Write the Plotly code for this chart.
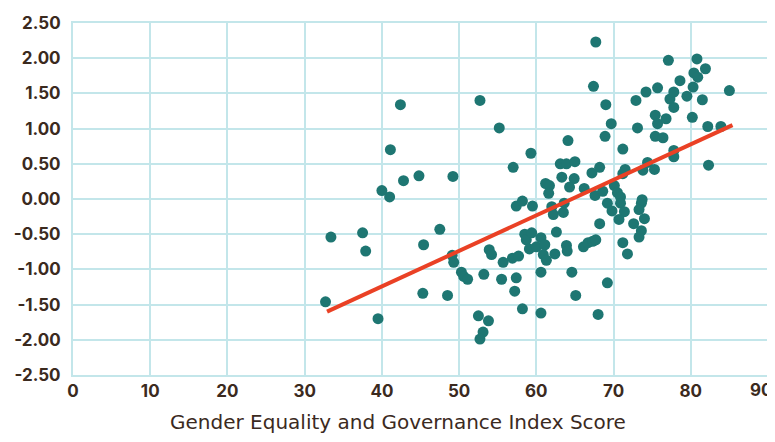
import plotly.graph_objects as go

# Gender Equality and Governance Index Score (x) vs. standardized outcome (y)
score = [32.7, 33.4, 37.5, 37.9, 39.5, 40.0, 41.1, 41.0, 42.4, 42.8,
         44.8, 45.3, 45.4, 47.5, 48.5, 49.2, 49.1, 49.3, 50.3, 50.6,
         51.1, 52.7, 52.5, 53.1, 52.7, 53.8, 53.2, 53.9, 54.2, 55.2,
         55.7, 55.5, 56.9, 57.7, 57.0, 57.4, 58.2, 57.4, 57.2, 58.2,
         58.5, 58.7, 59.3, 59.5, 59.4, 59.1, 60.0, 60.6, 61.1, 60.9,
         61.3, 60.6, 60.6, 61.2, 61.7, 61.6, 62.0, 62.2, 62.6, 62.4,
         63.1, 63.9, 64.1, 63.3, 64.9, 64.3, 63.6, 63.5, 63.9, 64.0,
         64.6, 65.0, 65.1, 66.2, 66.1, 66.7, 67.3, 67.2, 67.7, 67.4,
         67.6, 67.7, 68.0, 68.2, 68.2, 69.0, 69.7, 68.9, 69.2, 69.8,
         69.2, 68.6, 70.1, 70.5, 70.9, 70.9, 71.4, 70.7, 71.2, 71.8,
         71.2, 71.2, 71.5, 72.9, 73.1, 73.6, 73.3, 74.0, 72.6, 73.6,
         73.3, 73.8, 74.4, 75.3, 74.2, 75.7, 75.4, 75.7, 76.8, 75.4,
         76.4, 77.1, 77.3, 77.8, 77.8, 77.8, 77.8, 78.6, 79.5, 80.3,
         80.4, 80.9, 80.8, 81.9, 80.2, 81.5, 82.2, 83.9, 82.3, 85.0,
         73.7]
value = [-1.46, -0.54, -0.48, -0.74, -1.70, 0.12, 0.70, 0.03, 1.34, 0.26,
         0.33, -1.34, -0.65, -0.43, -1.37, 0.32, -0.80, -0.90, -1.04, -1.10,
         -1.14, 1.40, -1.66, -1.89, -1.99, -1.73, -1.07, -0.72, -0.79, 1.01,
         -0.90, -1.14, -0.84, -0.81, 0.45, -0.10, -0.03, -1.12, -1.31, -1.56,
         -0.50, -0.58, 0.65, -0.10, -0.48, -0.71, -0.68, -0.55, -0.65, -0.79,
         -0.87, -1.04, -1.62, 0.22, 0.19, 0.08, -0.11, -0.22, -0.47, -0.78,
         0.50, 0.50, 0.83, 0.31, 0.29, 0.17, -0.06, -0.19, -0.66, -0.74,
         -1.04, 0.53, -1.37, 0.15, -0.68, -0.62, -0.60, 0.37, 2.23, 1.60,
         0.05, -0.58, -1.64, 0.45, -0.35, 1.34, 1.07, 0.89, -0.06, -0.17,
         -1.19, 0.11, 0.19, 0.09, 0.03, -0.06, -0.18, -0.29, -0.62, -0.78,
         0.71, 0.36, 0.42, 1.40, 1.01, -0.06, -0.15, -0.28, -0.35, -0.45,
         -0.54, 0.41, 0.52, 0.42, 1.52, 1.58, 1.19, 1.07, 1.14, 0.89,
         0.87, 1.97, 1.42, 1.52, 1.30, 0.69, 0.60, 1.68, 1.46, 1.59,
         1.79, 1.73, 1.99, 1.85, 1.16, 1.41, 1.03, 1.03, 0.48, 1.54,
         -0.01]

# Trend line endpoints
trend_x = [32.9, 85.4]
trend_y = [-1.60, 1.05]

x_ticks = [0, 10, 20, 30, 40, 50, 60, 70, 80, 90]
y_ticks = [-2.5, -2.0, -1.5, -1.0, -0.5, 0.0, 0.5, 1.0, 1.5, 2.0, 2.5]
y_tick_labels = ["-2.50", "-2.00", "-1.50", "-1.00", "-0.50",
                 "0.00", "0.50", "1.00", "1.50", "2.00", "2.50"]
x_title = "Gender Equality and Governance Index Score"

GRID = "#c3e6ea"
TEXT = "#3b2a1e"
TICKFONT = dict(size=17, family="Inter, sans-serif", weight="bold", color=TEXT)

fig = go.Figure()
fig.add_trace(go.Scatter(
    x=score, y=value, mode="markers",
    marker=dict(size=11, color="#1e7672", line=dict(width=0)),
    showlegend=False, hoverinfo="x+y"))
fig.add_trace(go.Scatter(
    x=trend_x, y=trend_y, mode="lines",
    line=dict(color="#ea4125", width=4),
    showlegend=False, hoverinfo="skip"))

# last x tick label is drawn slightly inward so it stays inside the frame
x_ticktext = [str(v) for v in x_ticks[:-1]] + [""]
annotations = [
    dict(text=x_title, xref="paper", yref="paper", x=0.4676, y=0,
         yshift=-47, xanchor="center", yanchor="middle", showarrow=False,
         font=dict(size=20, family="DejaVu Sans, sans-serif", color=TEXT)),
    dict(text=str(x_ticks[-1]), xref="x", yref="paper", x=x_ticks[-1], y=0,
         xshift=-7, yshift=-15, xanchor="center", yanchor="middle", showarrow=False,
         font=TICKFONT),
]

fig.update_layout(
    width=775, height=442,
    margin=dict(l=65, r=15, t=15, b=75, autoexpand=False),
    paper_bgcolor="white", plot_bgcolor="white",
    font=dict(family="Inter, Open Sans, sans-serif", color=TEXT),
    annotations=annotations,
)
fig.update_xaxes(
    range=[0, 90], tickvals=x_ticks, ticktext=x_ticktext,
    showgrid=True, gridcolor=GRID, gridwidth=2,
    showline=True, linecolor=GRID, linewidth=2, mirror=True,
    zeroline=False, ticks="", automargin=False,
    tickfont=TICKFONT,
)
fig.update_yaxes(
    range=[-2.5, 2.5], tickvals=y_ticks, ticktext=y_tick_labels,
    showgrid=True, gridcolor=GRID, gridwidth=2,
    showline=True, linecolor=GRID, linewidth=2, mirror=True,
    zeroline=False, ticks="", automargin=False, ticklabelstandoff=7,
    tickfont=TICKFONT,
)

fig.write_html("out.html")
